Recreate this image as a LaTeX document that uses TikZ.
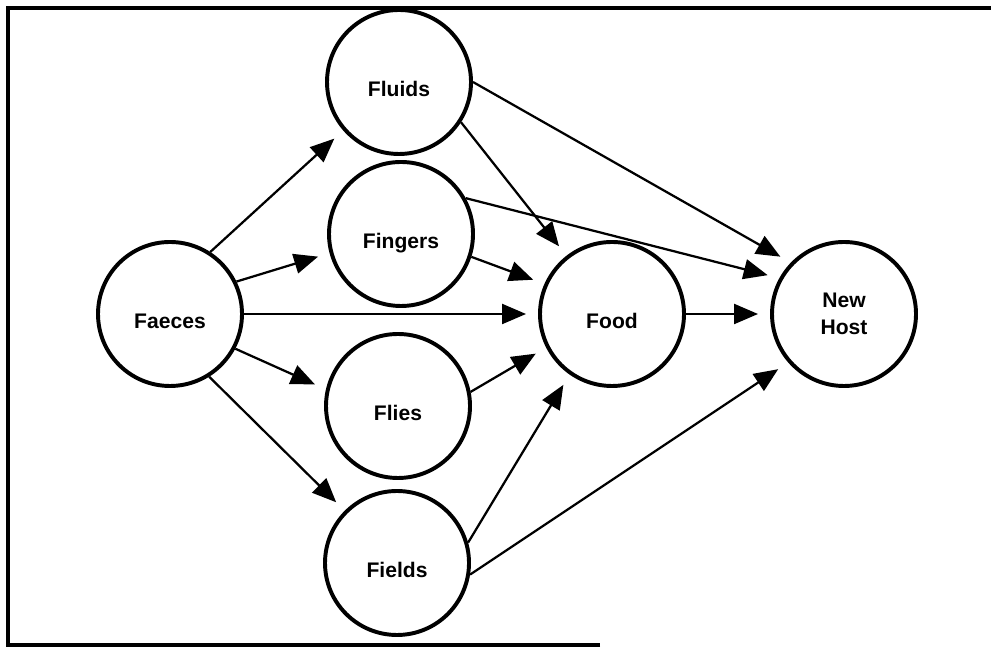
\documentclass[tikz,border=0pt]{standalone}
\usepackage{fontspec}
\setmainfont{Liberation Sans}
\usetikzlibrary{arrows.meta}

\begin{document}
\begin{tikzpicture}[
    stage/.style={circle, draw, line width=2.8pt, minimum size=3.6cm, inner sep=0pt,
        font=\fontsize{15}{19}\selectfont\bfseries, align=center},
    oneline/.style={text height=20pt, text depth=0pt},
    flow/.style={-{Triangle[length=0.6cm, width=0.5cm]}, line width=1.6pt, shorten >=0.3cm}
]
    \useasboundingbox (0, 0) rectangle (24.775, 16.2);
    % frame
    \draw[line width=3.4pt] (15, 0.075) -- (0.2, 0.075) -- (0.2, 16.0) -- (24.775, 16.0);

    % source
    \node[stage, oneline] (faeces) at (4.25, 8.35) {Faeces};

    % routes
    \node[stage, oneline] (fluids) at (9.975, 14.15) {Fluids};
    \node[stage, oneline] (fingers) at (10.025, 10.35) {Fingers};
    \node[stage, oneline] (flies) at (9.95, 6.05) {Flies};
    \node[stage, oneline] (fields) at (9.925, 2.125) {Fields};

    % food and host
    \node[stage, oneline] (food) at (15.3, 8.35) {Food};
    \node[stage] (host) at (21.1, 8.35) {New\\Host};

    \draw[flow] (faeces.57) -- (fluids.221);
    \draw[flow] (faeces.26) -- (fingers.195);
    \draw[flow] (faeces.0) -- (food.180);
    \draw[flow] (faeces.-28) -- (flies.167);
    \draw[flow] (faeces.-58) -- (fields.135);

    \draw[flow] (fluids.0) -- (host.136);
    \draw[flow] (fluids.-33) -- (food.128);
    \draw[flow] (fingers.29) -- (host.151);
    \draw[flow] (fingers.-18) -- (food.156);
    \draw[flow] (flies.11) -- (food.207);
    \draw[flow] (fields.16) -- (food.235);
    \draw[flow] (fields.-9) -- (host.221);

    \draw[flow] (food.0) -- (host.180);
\end{tikzpicture}
\end{document}
